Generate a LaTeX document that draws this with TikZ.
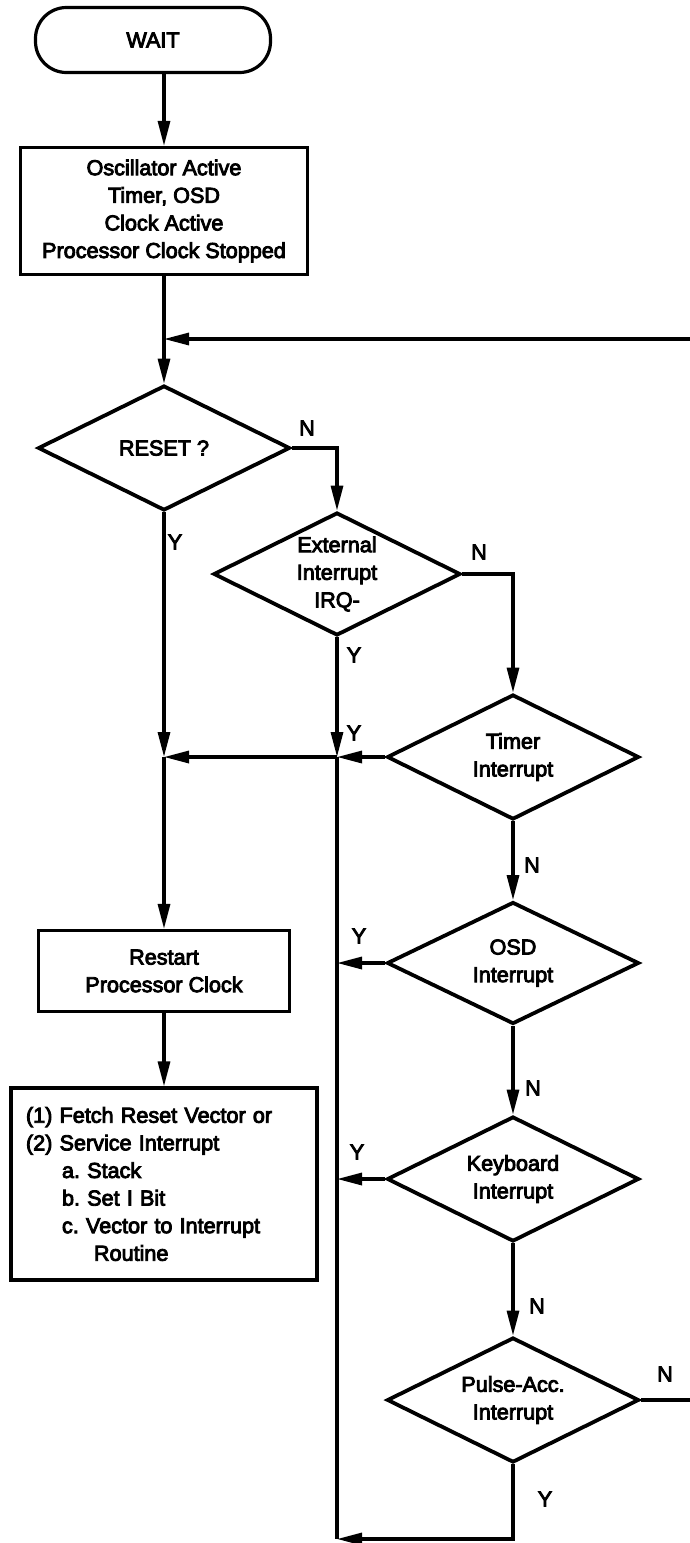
\documentclass[tikz,border=0pt]{standalone}
\usepackage{fontspec}
\setmainfont{Liberation Sans}[FakeBold=4]
\usetikzlibrary{positioning,shapes.geometric,arrows.meta}
\frenchspacing

\begin{document}
\begin{tikzpicture}[
	x=1pt, y=-1pt,
	font=\fontsize{21.6}{27.6}\selectfont,
	terminal/.style={
		draw, line width=3.2pt, rounded corners=31pt,
		minimum width=235pt, minimum height=65pt
	},
	procbox/.style={
		draw, line width=3.2pt, align=center, inner sep=0pt
	},
	decision/.style={
		diamond, draw, line width=3.8pt, aspect=2, inner sep=0pt, align=center,
		minimum width=252pt, minimum height=125pt
	},
	lbl/.style={inner sep=0pt},
	flow/.style={
		draw, line width=3.2pt, -{Triangle[length=25pt,width=12pt]}
	},
	link/.style={draw, line width=3.2pt}
	]
	\useasboundingbox (0,0) rectangle (690,1543);

	% left column
	\node[terminal] (wait) at (153,40) {WAIT};
	\node[procbox, minimum width=287pt, minimum height=127pt] (osc) at (164,211)
		{Oscillator Active\\Timer, OSD\\Clock Active\\Processor Clock Stopped};
	\node[decision] (reset) at (164,448) {RESET ?};
	\node[procbox, minimum width=251pt, minimum height=81pt] (restart) at (164,971)
		{Restart\\Processor Clock};
	\node[procbox, minimum width=306pt, minimum height=192pt, align=left, text width=276pt] (fetch) at (164,1184)
		{(1) Fetch Reset Vector or\\(2) Service Interrupt\\\hspace*{36pt}a. Stack\\\hspace*{36pt}b. Set I Bit\\\hspace*{36pt}c. Vector to Interrupt\\\hspace*{68pt}Routine};

	% interrupt checks
	\node[decision, minimum width=247pt, minimum height=123pt] (ext) at (337,574) {External\\Interrupt\\IRQ-};
	\node[decision] (timer) at (513,757) {Timer\\Interrupt};
	\node[decision, minimum height=122pt] (osd) at (513,963) {OSD\\Interrupt};
	\node[decision] (kbd) at (513,1179) {Keyboard\\Interrupt};
	\node[decision] (pulse) at (513,1400) {Pulse-Acc.\\Interrupt};

	% free ends and junctions
	\coordinate (back) at (690,339);
	\coordinate (out) at (690,1400);
	\coordinate (bot) at (337,1539);
	\coordinate (j1) at (reset.south |- timer.west);
	\coordinate (j2) at (ext.south |- timer.west);

	% connectors
	\draw[flow] (wait.south -| osc.north) -- (osc.north);
	\draw[flow] (osc.south) -- (reset.north);
	\draw[flow] (back) -- (back -| osc.south);
	\draw[flow] (reset.east) -| (ext.north);
	\draw[flow] (ext.east) -| (timer.north);
	\draw[flow] (reset.south) -- (j1);
	\draw[flow] (j1) -- (restart.north);
	\draw[flow] (restart.south) -- (fetch.north);
	\draw[flow] (ext.south) -- (j2);
	\draw[link] (j2) -- (bot);
	\draw[flow] (timer.west) -- (j2);
	\draw[flow] (j2) -- (j1);
	\draw[flow] (timer.south) -- (osd.north);
	\draw[flow] (osd.south) -- (kbd.north);
	\draw[flow] (kbd.south) -- (pulse.north);
	\draw[flow] (osd.west) -- (osd.west -| j2);
	\draw[flow] (kbd.west) -- (kbd.west -| j2);
	\draw[link] (pulse.east) -- (out);
	\draw[flow] (pulse.south) |- (bot);

	% Y / N labels
	\node[lbl] (nReset) at (307,428) {N};
	\node[lbl] (yReset) at (175,542) {Y};
	\node[lbl] (nExt) at (479,552) {N};
	\node[lbl] (yExt) at (354,655) {Y};
	\node[lbl] (yTimer) at (354,733) {Y};
	\node[lbl] (nTimer) at (532,865) {N};
	\node[lbl] (yOsd) at (359,936) {Y};
	\node[lbl] (nOsd) at (533,1088) {N};
	\node[lbl] (yKbd) at (357,1152) {Y};
	\node[lbl] (nKbd) at (537,1306) {N};
	\node[lbl] (nPulse) at (665,1374) {N};
	\node[lbl] (yPulse) at (545,1499) {Y};
\end{tikzpicture}
\end{document}
